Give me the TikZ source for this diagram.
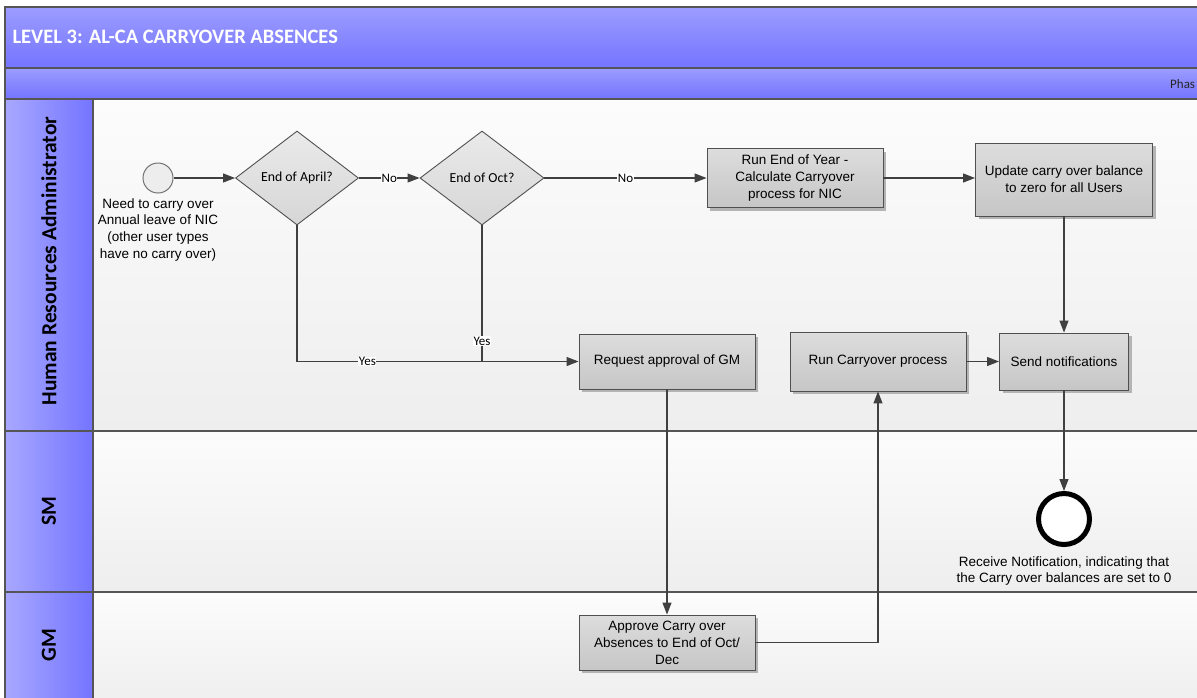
\documentclass[tikz,border=0pt]{standalone}
\usepackage{fontspec}
\setmainfont{Liberation Sans}
\newfontfamily\calfont{Carlito}
\usetikzlibrary{shapes.geometric,arrows.meta,shadows}
\definecolor{hdrtop}{HTML}{9C9CFF}
\definecolor{hdrbot}{HTML}{7474FF}
\definecolor{lanel}{HTML}{A8A8FF}
\definecolor{laner}{HTML}{7474FF}
\definecolor{frame}{HTML}{555555}
\definecolor{bodytop}{HTML}{FCFCFC}
\definecolor{bodybot}{HTML}{EEEEEE}
\definecolor{boxtop}{HTML}{DDDDDD}
\definecolor{boxbot}{HTML}{C6C6C6}
\definecolor{boxline}{HTML}{505050}
\definecolor{shadowc}{HTML}{B4B4B4}
\definecolor{diatop}{HTML}{EAEAEA}
\definecolor{diabot}{HTML}{D6D6D6}
\definecolor{flowc}{HTML}{404040}
\begin{document}
\begin{tikzpicture}[x=1pt,y=-1pt,
  boxfont/.style={font=\fontsize{13.5}{17}\selectfont},
  procbox/.style={rectangle, draw=boxline, line width=0.9pt, top color=boxtop, bottom color=boxbot,
     align=center, boxfont, inner sep=2pt,
     drop shadow={shadow xshift=3pt,shadow yshift=-3pt,fill=shadowc,opacity=1}},
  decision/.style={diamond, draw=boxline, line width=0.9pt, top color=diatop, bottom color=diabot,
     inner sep=0pt, font=\calfont\fontsize{13.8}{16}\selectfont},
  flow/.style={draw=flowc, line width=1.1pt, -{Triangle[length=12pt,width=9pt]}},
  plainflow/.style={draw=flowc, line width=1.1pt},
  elabel/.style={fill=white, inner sep=0.5pt, font=\calfont\fontsize{13}{14}\selectfont, text=black},
  lanelabel/.style={rotate=90, font=\calfont\bfseries\fontsize{21.5}{24}\selectfont, text=black},
  note/.style={align=center, font=\fontsize{13.5}{16.6}\selectfont}
]
\useasboundingbox (0,0) rectangle (1197,697);
\clip (0,0) rectangle (1197,697);
% bands
\shade[top color=hdrtop, bottom color=hdrbot] (5,7) rectangle (1210,68);
\shade[top color=hdrtop, bottom color=hdrbot] (5,68) rectangle (1210,99);
% lane bodies
\shade[top color=bodytop, bottom color=bodybot] (93,99) rectangle (1210,431);
\shade[top color=bodytop, bottom color=bodybot] (93,431) rectangle (1210,592);
\shade[top color=bodytop, bottom color=bodybot] (93,592) rectangle (1210,710);
% lane headers
\shade[left color=lanel, right color=laner] (5,99) rectangle (93,431);
\shade[left color=lanel, right color=laner] (5,431) rectangle (93,592);
\shade[left color=lanel, right color=laner] (5,592) rectangle (93,710);
% frame lines
\draw[frame, line width=1.5pt] (1210,7) -- (5,7) -- (5,710);
\draw[frame, line width=1.5pt] (5,68) -- (1210,68);
\draw[frame, line width=1.5pt] (5,99) -- (1210,99);
\draw[frame, line width=1.2pt] (5,431) -- (1210,431);
\draw[frame, line width=1.2pt] (5,592) -- (1210,592);
\draw[frame, line width=1.2pt] (93,99) -- (93,710);
% header texts
\node[anchor=west, text=white, font=\calfont\bfseries\fontsize{20.5}{24}\selectfont] (title) at (9,37) {LEVEL 3: AL-CA CARRYOVER ABSENCES};
\node[anchor=west, text=black!85, font=\calfont\fontsize{13}{14}\selectfont, inner sep=0pt] (phase) at (1170,84) {Phas};
\node[lanelabel] (lhr) at (49,261) {Human Resources Administrator};
\node[lanelabel] (lsm) at (49,511) {SM};
\node[lanelabel] (lgm) at (49,645) {GM};

% nodes
\node[circle, draw=black!55, fill=black!7, line width=1pt, minimum size=30pt, inner sep=0pt] (start) at (158,178) {};
\node[note, anchor=north] (starttxt) at (158,195) {Need to carry over\\Annual leave of NIC\\(other user types\\have no carry over)};
\node[decision, minimum width=123pt, minimum height=94pt] (d1) at (297,178) {End of April?};
\node[decision, minimum width=124pt, minimum height=94pt] (d2) at (482,178) {End of Oct?};
\node[procbox, minimum width=176pt, minimum height=59pt] (eoy) at (795,178) {Run End of Year -\\Calculate Carryover\\process for NIC};
\node[procbox, minimum width=177pt, minimum height=73pt] (upd) at (1064,179.5) {Update carry over balance\\to zero for all Users};
\node[procbox, minimum width=176pt, minimum height=55pt] (req) at (667,361.5) {Request approval of GM};
\node[procbox, minimum width=176pt, minimum height=59pt] (runc) at (878,361.5) {Run Carryover process};
\node[procbox, minimum width=129pt, minimum height=57pt] (send) at (1064,361.5) {Send notifications};
\node[circle, draw=black, fill=white, line width=5pt, minimum size=51pt, inner sep=0pt] (endc) at (1064,519) {};
\node[note, anchor=north] (endtxt) at (1064,553) {Receive Notification, indicating that\\the Carry over balances are set to 0};
\node[procbox, minimum width=176pt, minimum height=55pt] (apr) at (667,642.5) {Approve Carry over\\Absences to End of Oct/\\Dec};

% connectors
\draw[flow] (start.east) -- (d1.west);
\draw[flow] (d1.east) -- node[elabel]{No} (d2.west);
\draw[flow] (d2.east) -- node[elabel]{No} (eoy.west);
\draw[flow] (eoy.east) -- (eoy.east -| upd.west);
\draw[flow] (upd.south) -- (send.north);
\draw[flow] (d1.south) |- node[elabel, pos=0.625]{Yes} (req.west);
\draw[plainflow] (d2.south) -- node[elabel, pos=0.85]{Yes} (d2.south |- req.west);
\draw[flow] (req.south) -- (apr.north);
\draw[flow] (apr.east) -| (runc.south);
\draw[flow] (runc.east) -- (send.west);
\draw[flow] (send.south) -- (endc.north);
\end{tikzpicture}
\end{document}
